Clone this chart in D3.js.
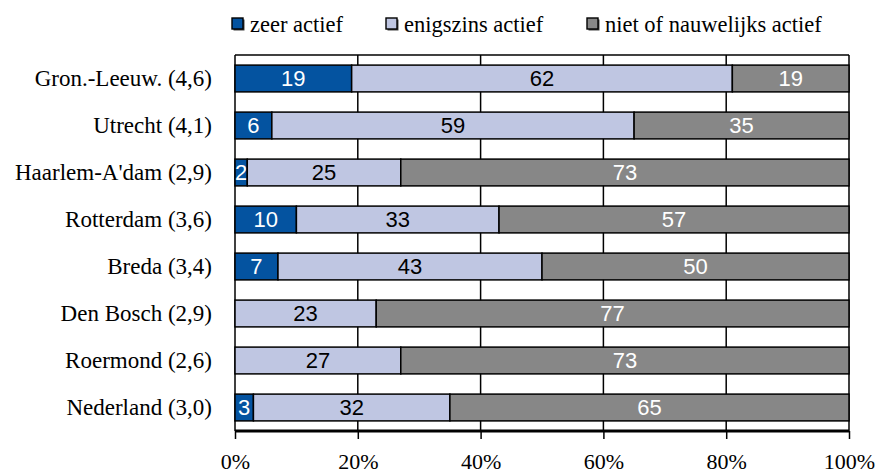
<!DOCTYPE html>
<html>
<head>
<meta charset="utf-8">
<script src="https://cdn.jsdelivr.net/npm/d3@7"></script>
<style>
  body { margin: 0; background: #fff; }
  svg { display: block; }
  .serif { font-family: "Liberation Serif", "Times New Roman", Times, serif; }
  .sans { font-family: "Liberation Sans", Arial, Helvetica, sans-serif; }
</style>
</head>
<body>
<svg id="chart"></svg>
<script>
// Data
const categories = ["Gron.-Leeuw. (4,6)", "Utrecht (4,1)", "Haarlem-A'dam (2,9)", "Rotterdam (3,6)",
  "Breda (3,4)", "Den Bosch (2,9)", "Roermond (2,6)", "Nederland (3,0)"];
const seriesNames = ["zeer actief", "enigszins actief", "niet of nauwelijks actief"];
const zeerActief = [19, 6, 2, 10, 7, 0, 0, 3];
const enigszinsActief = [62, 59, 25, 33, 43, 23, 27, 32];
const nietActief = [19, 35, 73, 57, 50, 77, 73, 65];
const tickValues = [0, 0.2, 0.4, 0.6, 0.8, 1];

const colors = ["#0453a0", "#bfc6e2", "#878787"];
const labelColors = ["#fff", "#000", "#fff"];

// Set dimensions
const width = 877, height = 473;
const margin = {top: 55, right: 28, bottom: 42, left: 235};
const innerW = width - margin.left - margin.right,
      innerH = height - margin.top - margin.bottom;

const svg = d3.select("#chart")
    .attr("width", width)
    .attr("height", height);

const g = svg.append("g")
    .attr("transform", `translate(${margin.left}, ${margin.top})`);

// Build stacked table
const table = categories.map((c, i) => ({
  cat: c, s0: zeerActief[i], s1: enigszinsActief[i], s2: nietActief[i]
}));
const stack = d3.stack().keys(["s0", "s1", "s2"]).offset(d3.stackOffsetExpand);
const stacked = stack(table);

const x = d3.scaleLinear().domain([0, 1]).range([0, innerW]);
const y = d3.scaleBand().domain(categories).range([0, innerH]).paddingInner(0.43).paddingOuter(0.215);

// Gridlines + frame
g.selectAll(".grid")
    .data(tickValues)
    .enter()
    .append("line")
    .attr("x1", d => x(d)).attr("x2", d => x(d))
    .attr("y1", 0).attr("y2", innerH)
    .attr("stroke", "#000").attr("stroke-width", 1.5);
g.append("line")
    .attr("x1", 0).attr("x2", innerW)
    .attr("y1", 0).attr("y2", 0)
    .attr("stroke", "#000").attr("stroke-width", 1.5);

// Bars
const layers = g.selectAll(".layer")
    .data(stacked)
    .enter()
    .append("g");

layers.selectAll("rect")
    .data((d, k) => d.map(v => ({v, k})).filter(o => o.v[1] - o.v[0] > 0))
    .enter()
    .append("rect")
    .attr("x", d => x(d.v[0]))
    .attr("y", d => y(d.v.data.cat))
    .attr("width", d => x(d.v[1]) - x(d.v[0]))
    .attr("height", y.bandwidth())
    .attr("fill", d => colors[d.k])
    .attr("stroke", "#000")
    .attr("stroke-width", 1.5);

// Value labels
layers.selectAll("text")
    .data((d, k) => d.map(v => ({v, k})).filter(o => o.v[1] - o.v[0] > 0))
    .enter()
    .append("text")
    .attr("class", "sans")
    .attr("x", d => (x(d.v[0]) + x(d.v[1])) / 2)
    .attr("y", d => y(d.v.data.cat) + y.bandwidth() / 2)
    .attr("dy", "0.36em")
    .attr("text-anchor", "middle")
    .style("font-size", "22px")
    .attr("fill", d => labelColors[d.k])
    .text(d => d.v.data["s" + d.k]);

// X axis
const xAxis = g.append("g")
    .attr("transform", `translate(0, ${innerH})`)
    .call(d3.axisBottom(x).tickValues(tickValues).tickFormat(d3.format(".0%")).tickSize(8).tickPadding(14));
xAxis.select(".domain").attr("stroke-width", 3).attr("d", `M0,0H${innerW}`);
xAxis.selectAll(".tick line").attr("stroke-width", 1.5);
xAxis.selectAll("text")
    .attr("class", "serif")
    .style("font-size", "22px")
    .attr("fill", "#000");

// Y axis labels
const yAxis = g.append("g")
    .call(d3.axisLeft(y).tickSize(0).tickPadding(23));
yAxis.select(".domain").remove();
yAxis.selectAll("text")
    .attr("class", "serif")
    .style("font-size", "23px")
    .attr("fill", "#000");

// Legend
const legendX = [232, 386, 587];
const legend = svg.selectAll(".legend")
    .data(seriesNames)
    .enter()
    .append("g")
    .attr("transform", (d, i) => `translate(${legendX[i]}, 18)`);
legend.append("rect")
    .attr("x", 1.5).attr("y", 1.5)
    .attr("width", 11).attr("height", 11)
    .attr("fill", "#444");
legend.append("rect")
    .attr("width", 11).attr("height", 11)
    .attr("fill", (d, i) => colors[i])
    .attr("stroke", "#000").attr("stroke-width", 1.4);
legend.append("text")
    .attr("class", "serif")
    .attr("x", 18).attr("y", 14)
    .style("font-size", "22.5px")
    .attr("fill", "#000")
    .text(d => d);
</script>
</body>
</html>
